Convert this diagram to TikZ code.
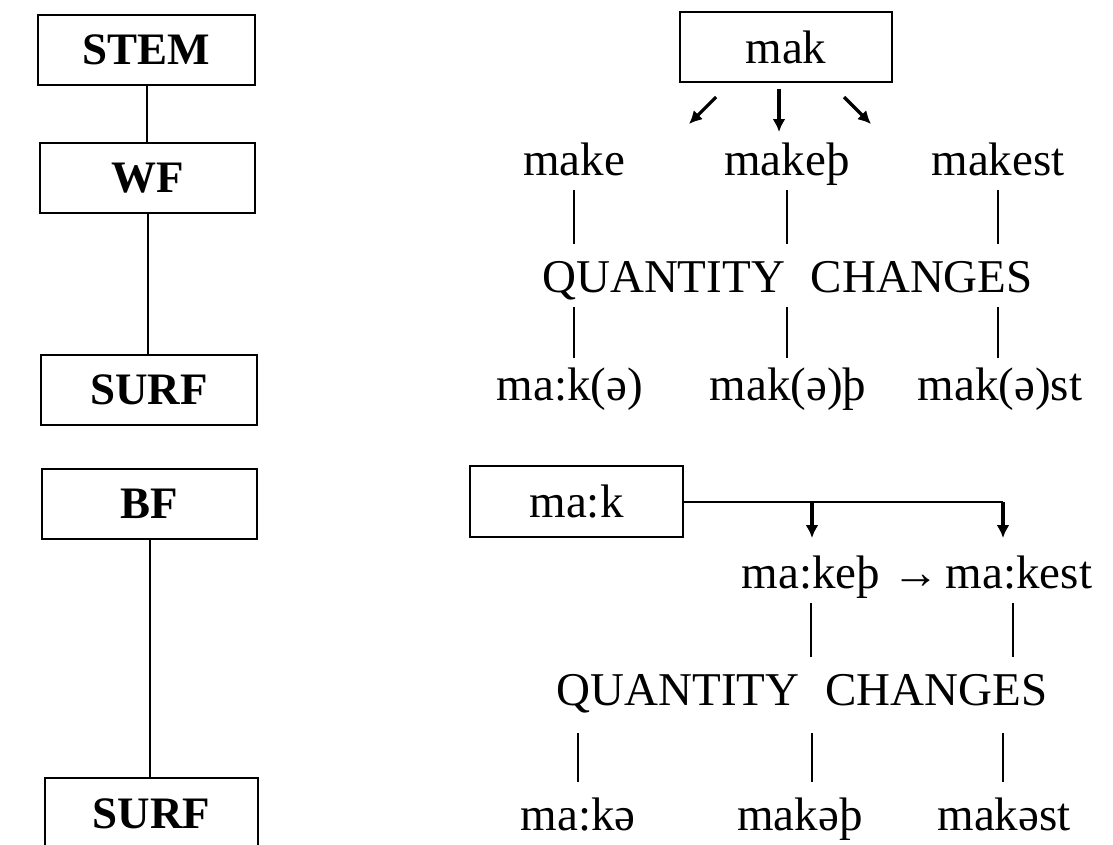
\documentclass[tikz,border=0pt]{standalone}
\usepackage{fontspec}
\setmainfont{Liberation Serif}
\usetikzlibrary{arrows.meta}
\begin{document}
\begin{tikzpicture}[x=1pt,y=-1pt,
  lbox/.style={draw,line width=2.2pt,minimum width=215pt,minimum height=70pt,inner sep=0pt,
    font=\fontsize{45}{54}\selectfont\bfseries},
  rbox/.style={draw,line width=2.2pt,minimum width=212pt,minimum height=70pt,inner sep=0pt,
    font=\fontsize{47}{56}\selectfont},
  word/.style={inner sep=0pt,anchor=base,text height=30pt,text depth=15pt,
    font=\fontsize{47}{56}\selectfont},
  qc/.style={inner sep=0pt,anchor=base,text height=48pt,text depth=15pt,
    font=\fontsize{47}{56}\selectfont},
  qcb/.style={qc,text depth=28pt},
  res/.style={inner sep=0pt,anchor=base,text height=42pt,text depth=15pt,
    font=\fontsize{47}{56}\selectfont},
  resb/.style={res,text height=48pt},
  conn/.style={line width=2pt},
  arr/.style={line width=3.2pt,-{Latex[length=13pt,width=13pt]}}
]
\useasboundingbox (0,0) rectangle (1113,844);
% left column
\node[lbox,minimum width=217pt] (stem) at (146.5,50) {STEM};
\node[lbox] (wf) at (147.5,178) {WF};
\node[lbox,minimum width=216pt] (surfa) at (149,390) {SURF};
\node[lbox] (bf) at (149.5,504) {BF};
\node[lbox,minimum width=213pt,minimum height=72pt] (surfb) at (151.5,814) {SURF};
\draw[conn] (stem.south) -- (stem.south |- wf.north);
\draw[conn] (wf.south) -- (wf.south |- surfa.north);
\draw[conn] (bf.south) -- (bf.south |- surfb.north);

% top right
\node[rbox] (mak) at (786,47) {mak};
\coordinate (a1s) at (716,97);  \coordinate (a1e) at (689,124);
\coordinate (a2s) at (779,89);  \coordinate (a2e) at (779,132);
\coordinate (a3s) at (844,97);  \coordinate (a3e) at (871,124);
\draw[arr] (a1s) -- (a1e);
\draw[arr] (a2s) -- (a2e);
\draw[arr] (a3s) -- (a3e);

\node[word] (make) at (574,175) {make};
\node[word] (makeb) at (787,175) {makeþ};
\node[word] (makest) at (998,175) {makest};
\node[qc] (qca) at (787.5,292) {QUANTITY\hspace{0.3em} CHANGES};
\node[res] (ra) at (570,400) {ma:k(ə)};
\node[res] (rb) at (788,400) {mak(ə)þ};
\node[res] (rc) at (1000,400) {mak(ə)st};
\draw[conn] (make.south) -- (make.south |- qca.north);
\draw[conn] (makeb.south) -- (makeb.south |- qca.north);
\draw[conn] (makest.south) -- (makest.south |- qca.north);
\draw[conn] (make.south |- qca.south) -- (make.south |- ra.north);
\draw[conn] (makeb.south |- qca.south) -- (makeb.south |- rb.north);
\draw[conn] (makest.south |- qca.south) -- (makest.south |- rc.north);

% bottom right
\node[rbox,minimum width=213pt,minimum height=71pt] (maak) at (576.5,501.5) {ma:k};
\coordinate (j1) at (812,501.5);
\coordinate (j2) at (1003,501.5);
\coordinate (t1) at (812,538);
\coordinate (t2) at (1003,538);
\draw[conn] (maak.east) -- (j2);
\draw[arr] (j1) -- (t1);
\draw[arr] (j2) -- (t2);

\node[word] (keb) at (811,588) {ma:keþ};
\node[word] (to) at (916,588) {→};
\node[word] (kest) at (1019,588) {ma:kest};
\node[qcb] (qcb) at (802,705) {QUANTITY\hspace{0.3em} CHANGES};
\node[resb] (sa) at (578,830) {ma:kə};
\node[resb] (sb) at (800,830) {makəþ};
\node[resb] (sc) at (1004,830) {makəst};
\coordinate (l2) at (1013,588);
\draw[conn] (keb.south) -- (keb.south |- qcb.north);
\draw[conn] (l2 |- keb.south) -- (l2 |- qcb.north);
\draw[conn] (sa.north |- qcb.south) -- (sa.north);
\draw[conn] (812,0 |- qcb.south) -- (812,0 |- sb.north);
\draw[conn] (1003,0 |- qcb.south) -- (1003,0 |- sc.north);
\end{tikzpicture}
\end{document}
